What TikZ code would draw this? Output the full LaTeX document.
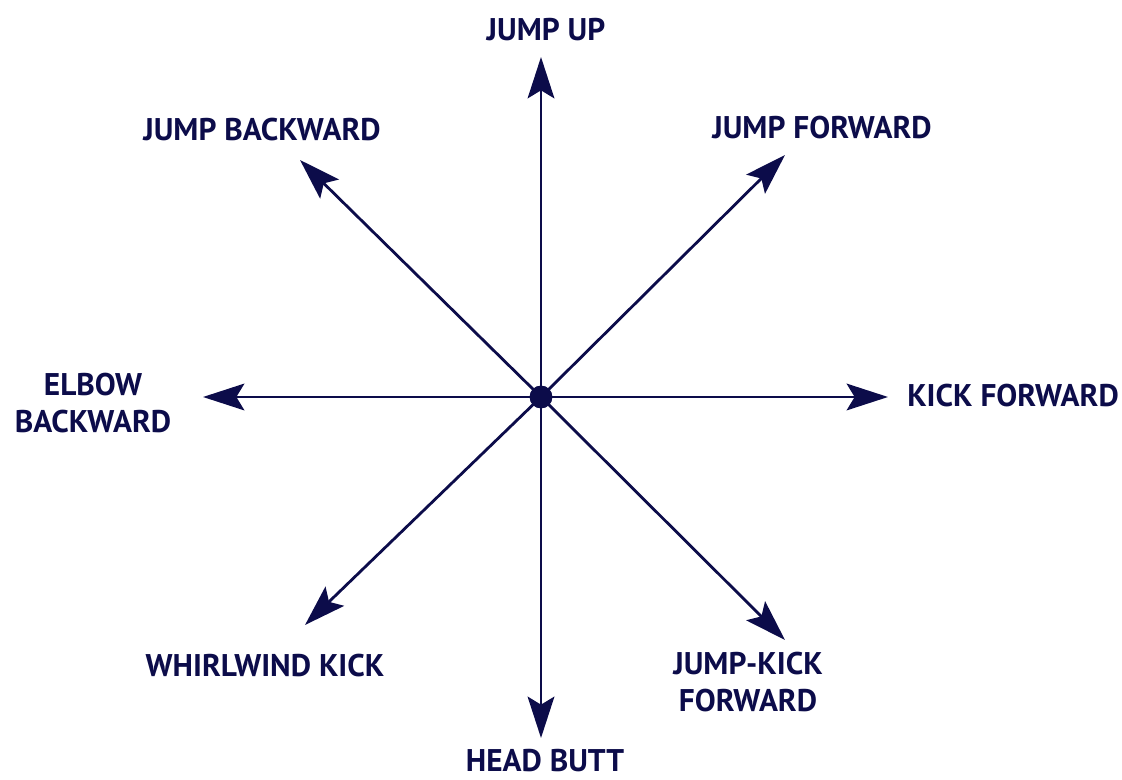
\documentclass[tikz,border=0pt]{standalone}
\usepackage{fontspec}
\setmainfont{PT Sans}
\usetikzlibrary{arrows.meta}
\definecolor{navy}{HTML}{0C0C4A}
\tikzset{
  x=0.75pt, y=-0.75pt,
  ray/.style={draw=navy, line width=2.1pt, -{Stealth[length=31pt, width=20pt, inset=6pt]}},
  lbl/.style={text=navy, font=\bfseries\fontsize{23.5}{27.5}\selectfont, inner sep=0pt, align=center},
  hub/.style={circle, fill=navy, minimum size=17pt, inner sep=0pt}
}
\begin{document}
\begin{tikzpicture}
\useasboundingbox (0,0) rectangle (1122,780);
\node[hub] (c) at (541,397) {};
\coordinate (tU) at (541,57);
\coordinate (tUR) at (785,155);
\coordinate (tR) at (888,397);
\coordinate (tDR) at (785,640);
\coordinate (tD) at (541,738);
\coordinate (tDL) at (305,625);
\coordinate (tL) at (203,397);
\coordinate (tUL) at (300,160);
\foreach \t in {tU,tUR,tR,tDR,tD,tDL,tL,tUL}{\draw[ray] (c.center) -- (\t);}
\node[lbl] (lU) at (546,30) {JUMP UP};
\node[lbl] (lUR) at (822,128) {JUMP FORWARD};
\node[lbl, anchor=west] (lR) at (907,396) {KICK FORWARD};
\node[lbl] (lDR) at (748,682) {JUMP-KICK\\FORWARD};
\node[lbl] (lD) at (545,761) {HEAD BUTT};
\node[lbl] (lDL) at (265,666) {WHIRLWIND KICK};
\node[lbl] (lL) at (93,403) {ELBOW\\BACKWARD};
\node[lbl] (lUL) at (262,130) {JUMP BACKWARD};
\node[hub] at (c) {};
\end{tikzpicture}
\end{document}
